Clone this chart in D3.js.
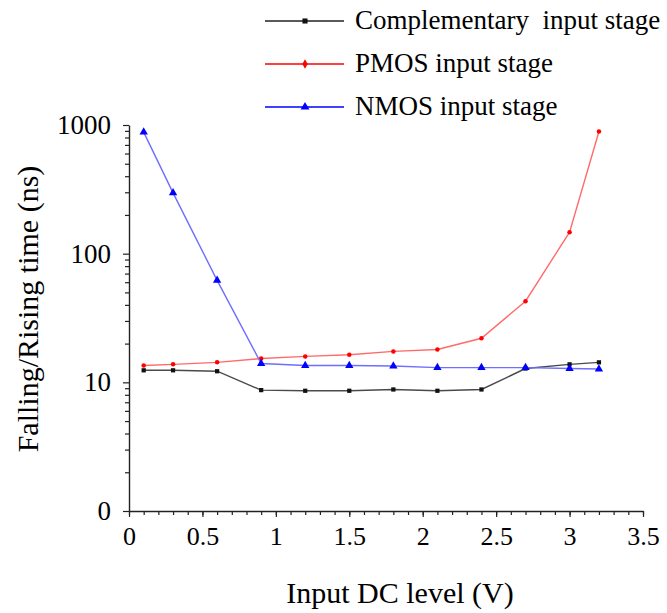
<!DOCTYPE html>
<html>
<head>
<meta charset="utf-8">
<script src="https://cdn.jsdelivr.net/npm/d3@7/dist/d3.min.js"></script>
<style>
  html, body { margin: 0; padding: 0; background: #fff; }
</style>
</head>
<body>
<div id="chart"></div>
<script>
// Input DC level (V) at which each stage was measured
const inputLevels = [0.1, 0.3, 0.6, 0.9, 1.2, 1.5, 1.8, 2.1, 2.4, 2.7, 3.0, 3.2];

// Falling/rising time (ns) per input stage
const complementaryTimes = [12.4, 12.4, 12.2, 8.7, 8.6, 8.6, 8.8, 8.6, 8.8, 12.8, 13.8, 14.3];
const pmosTimes = [13.5, 13.8, 14.3, 15.3, 15.9, 16.4, 17.4, 18.0, 22.0, 42.7, 147, 890];
const nmosTimes = [880, 297, 62, 14.0, 13.5, 13.5, 13.4, 13.0, 13.0, 13.0, 12.8, 12.7];

const seriesNames = ["Complementary  input stage", "PMOS input stage", "NMOS input stage"];

// Axis ticks
const xTickValues = [0, 0.5, 1, 1.5, 2, 2.5, 3, 3.5];
const xTickLabels = ["0", "0.5", "1", "1.5", "2", "2.5", "3", "3.5"];
const yTickValues = [1, 10, 100, 1000];
const yTickLabels = ["0", "10", "100", "1000"];

const FONT = "\"Liberation Serif\", \"Times New Roman\", serif";

const W = 667, H = 613;
const svg = d3.select("#chart").append("svg")
  .attr("width", W).attr("height", H)
  .style("font-family", FONT);

const x = d3.scaleLinear().domain([0, 3.5]).range([129, 643]);
const y = d3.scaleLog().domain([1, 1000]).range([511, 125]);

// Minor ticks
const xMinor = d3.range(0, 3.5001, 0.1).map(v => +v.toFixed(2));
const yMinor = [];
[1, 10, 100].forEach(d => { for (let k = 2; k <= 9; k++) yMinor.push(d * k); });

const axisColor = "#222";

function styleText(sel, size) {
  sel.style("font-family", FONT).style("font-size", size + "px").attr("fill", "#000");
}

// X axis: minor ticks, then major ticks with labels
const xAxisMinor = d3.axisBottom(x).tickValues(xMinor).tickSize(4).tickFormat("");
const gxm = svg.append("g").attr("transform", `translate(0,${y(1)})`).call(xAxisMinor);
gxm.select(".domain").remove();
gxm.selectAll("line").attr("stroke", axisColor).attr("stroke-width", 1.2);

const xAxis = d3.axisBottom(x).tickValues(xTickValues).tickSizeInner(6).tickSizeOuter(0)
  .tickPadding(10).tickFormat((d, i) => xTickLabels[i]);
const gx = svg.append("g").attr("transform", `translate(0,${y(1)})`).call(xAxis);
gx.attr("font-family", null).attr("font-size", null);
gx.select(".domain").attr("stroke", axisColor).attr("stroke-width", 1.4);
gx.selectAll("line").attr("stroke", axisColor).attr("stroke-width", 1.2);
styleText(gx.selectAll("text"), 26);

// Y axis
const yAxisMinor = d3.axisLeft(y).tickValues(yMinor).tickSize(4).tickFormat("");
const gym = svg.append("g").attr("transform", `translate(${x(0)},0)`).call(yAxisMinor);
gym.select(".domain").remove();
gym.selectAll("line").attr("stroke", axisColor).attr("stroke-width", 1.2);

const yAxis = d3.axisLeft(y).tickValues(yTickValues).tickSizeInner(6).tickSizeOuter(0)
  .tickPadding(12).tickFormat((d, i) => yTickLabels[i]);
const gy = svg.append("g").attr("transform", `translate(${x(0)},0)`).call(yAxis);
gy.attr("font-family", null).attr("font-size", null);
gy.select(".domain").attr("stroke", axisColor).attr("stroke-width", 1.4);
gy.selectAll("line").attr("stroke", axisColor).attr("stroke-width", 1.2);
styleText(gy.selectAll("text"), 27);

// Axis titles
styleText(svg.append("text")
  .attr("x", 400).attr("y", 603)
  .attr("text-anchor", "middle")
  .text("Input DC level (V)"), 30);

styleText(svg.append("text")
  .attr("transform", `translate(38,${309}) rotate(-90)`)
  .attr("text-anchor", "middle")
  .text("Falling/Rising time (ns)"), 30);

// Series
const series = [
  { name: seriesNames[0], values: complementaryTimes, line: "#4a4a4a", marker: "#111111", shape: d3.symbolSquare, size: 18 },
  { name: seriesNames[1], values: pmosTimes, line: "#ff6b6b", marker: "#ff0000", shape: d3.symbolCircle, size: 16 },
  { name: seriesNames[2], values: nmosTimes, line: "#6e6eff", marker: "#0000ff", shape: d3.symbolTriangle, size: 30 }
];

const lineGen = d3.line()
  .x(d => x(d[0]))
  .y(d => y(d[1]));

series.forEach(s => {
  const pts = inputLevels.map((v, i) => [v, s.values[i]]);
  svg.append("path")
    .datum(pts)
    .attr("fill", "none")
    .attr("stroke", s.line)
    .attr("stroke-width", 1.4)
    .attr("d", lineGen);
  svg.append("g").selectAll("path")
    .data(pts)
    .join("path")
    .attr("transform", d => `translate(${x(d[0])},${y(d[1])})`)
    .attr("d", d3.symbol().type(s.shape).size(s.size))
    .attr("fill", s.marker);
});

// Legend
const legendY = [21, 64, 107];
series.forEach((s, i) => {
  const g = svg.append("g").attr("transform", `translate(0,${legendY[i]})`);
  g.append("line")
    .attr("x1", 265).attr("x2", 344).attr("y1", 0).attr("y2", 0)
    .attr("stroke", i === 0 ? "#222" : s.marker).attr("stroke-width", 1.4);
  g.append("path")
    .attr("transform", "translate(305,0)")
    .attr("d", d3.symbol().type(i === 1 ? d3.symbolDiamond : s.shape).size(i === 2 ? 34 : 26))
    .attr("fill", s.marker);
  styleText(g.append("text")
    .attr("x", 355).attr("y", 8)
    .style("white-space", "pre")
    .text(s.name), 27);
});
</script>
</body>
</html>
